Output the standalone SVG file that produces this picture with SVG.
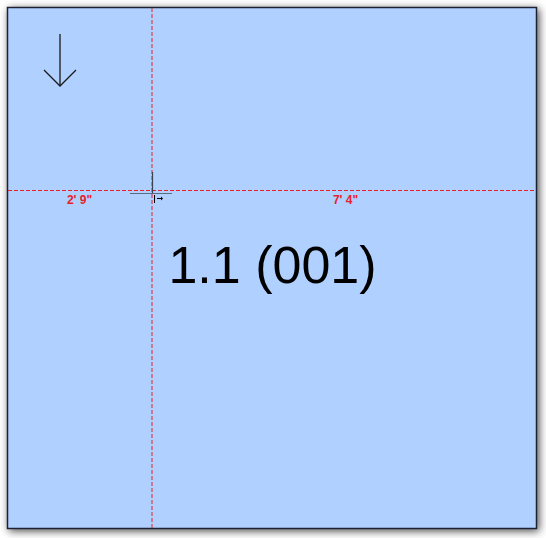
<svg xmlns="http://www.w3.org/2000/svg" width="546" height="538" viewBox="0 0 546 538">
<defs>
<filter id="sh" x="-10%" y="-10%" width="120%" height="120%">
<feGaussianBlur in="SourceAlpha" stdDeviation="4"/>
<feOffset dx="2" dy="2"/>
<feComponentTransfer><feFuncA type="linear" slope="0.7"/></feComponentTransfer>
<feMerge><feMergeNode/><feMergeNode in="SourceGraphic"/></feMerge>
</filter>
</defs>
<style>
.dim{stroke:#E8202A;stroke-width:1;stroke-dasharray:4 2;fill:none}
.dt{font-family:"Liberation Sans",Arial,sans-serif;font-size:12px;font-weight:bold;fill:#E8202A;text-anchor:middle}
.main{font-family:"Liberation Sans",Arial,sans-serif;font-size:52px;fill:#000;text-anchor:middle}
</style>
<rect width="546" height="538" fill="#ffffff"/>
<g id="room">
<rect x="7.5" y="7.5" width="529" height="521" fill="#B0D0FF" stroke="#1a2230" stroke-width="1.5" filter="url(#sh)"/>
<text class="main" x="272.5" y="283">1.1 (001)</text>
</g>
<g id="north-arrow" stroke="#1a1a1a" stroke-width="1.3" fill="none">
<line x1="60" y1="34" x2="60" y2="86"/>
<polyline points="44,70 60,86 76,70"/>
</g>
<g id="connectors">
<line class="dim" x1="152" y1="8" x2="152" y2="528"/>
<line class="dim" x1="8" y1="190.5" x2="536" y2="190.5"/>
<line x1="130" y1="193.5" x2="172" y2="193.5" stroke="#5a6a80" stroke-width="1.2"/>
<line x1="152.5" y1="172" x2="152.5" y2="193" stroke="#3a4450" stroke-width="1.2"/>
<line x1="154.5" y1="195" x2="154.5" y2="203" stroke="#000" stroke-width="1"/>
<line x1="157" y1="198.5" x2="161" y2="198.5" stroke="#000" stroke-width="1"/>
<path d="M161,196.5 L161,200.5 L163,198.5 Z" fill="#000"/>
</g>
<g id="labels">
<text class="dt" x="79.5" y="203.5">2' 9"</text>
<text class="dt" x="345.5" y="203.5">7' 4"</text>
</g>
</svg>
